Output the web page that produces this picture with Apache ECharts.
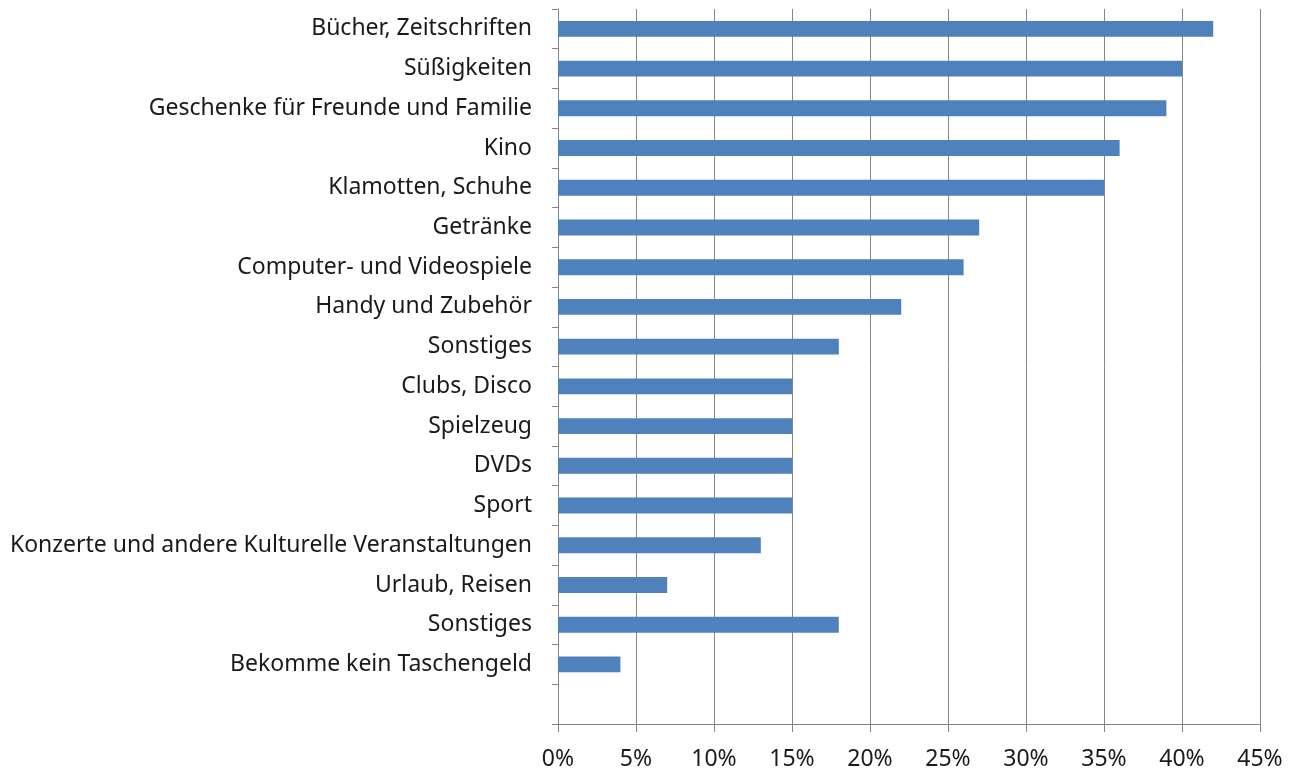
<!DOCTYPE html>
<html>
<head>
<meta charset="utf-8">
<script src="https://cdn.jsdelivr.net/npm/echarts@6/dist/echarts.min.js"></script>
<style>html,body{margin:0;padding:0;background:#fff;}#c{width:1300px;height:774px;}</style>
</head>
<body>
<div id="c"></div>
<script>
// Categories top to bottom (last slot is empty in the original)
const categories = [
  "Bücher, Zeitschriften",
  "Süßigkeiten",
  "Geschenke für Freunde und Familie",
  "Kino",
  "Klamotten, Schuhe",
  "Getränke",
  "Computer- und Videospiele",
  "Handy und Zubehör",
  "Sonstiges",
  "Clubs, Disco",
  "Spielzeug",
  "DVDs",
  "Sport",
  "Konzerte und andere Kulturelle Veranstaltungen",
  "Urlaub, Reisen",
  "Sonstiges",
  "Bekomme kein Taschengeld",
  ""
];
const values = [42, 40, 39, 36, 35, 27, 26, 22, 18, 15, 15, 15, 15, 13, 7, 18, 4, null];
const xTicks = [0, 5, 10, 15, 20, 25, 30, 35, 40, 45];

const chart = echarts.init(document.getElementById('c'), null, {renderer: 'canvas'});
const font = "Noto Sans";
chart.setOption({
  animation: false,
  grid: {left: 558, right: 40, top: 9, bottom: 50, containLabel: false},
  xAxis: {
    type: 'value', min: xTicks[0], max: xTicks[xTicks.length - 1], interval: 5,
    axisLine: {show: true, lineStyle: {color: '#868686', width: 1}},
    axisTick: {show: true, length: 8, lineStyle: {color: '#868686'}},
    splitLine: {show: true, lineStyle: {color: '#868686', width: 1}},
    axisLabel: {formatter: v => v + '%', color: '#1a1a1a', fontSize: 23, fontFamily: font, margin: 24}
  },
  yAxis: {
    type: 'category', data: categories, inverse: true,
    axisLine: {show: true, lineStyle: {color: '#868686', width: 1}},
    axisTick: {show: true, length: 6, lineStyle: {color: '#868686'}},
    axisLabel: {color: '#1a1a1a', fontSize: 23, fontFamily: font, margin: 26}
  },
  series: [{
    type: 'bar', data: values, barWidth: '40%',
    itemStyle: {color: '#4F81BD'}
  }]
});
</script>
</body>
</html>
